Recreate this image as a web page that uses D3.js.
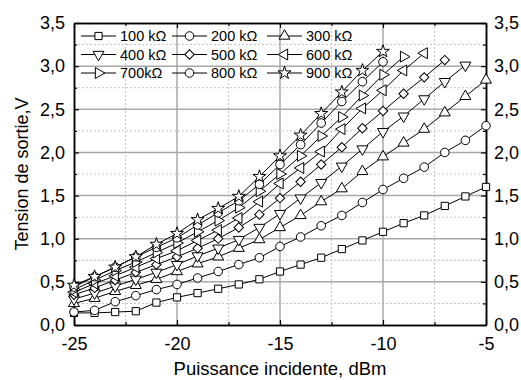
<!DOCTYPE html>
<html><head><meta charset="utf-8">
<script src="https://cdn.jsdelivr.net/npm/d3@7"></script>
<style>body{margin:0;background:#fff}svg{display:block;font-family:"Liberation Sans",Arial,sans-serif}</style>
</head><body><svg id="c" width="521" height="380"></svg>
<script>
const xValues = [-25,-24,-23,-22,-21,-20,-19,-18,-17,-16,-15,-14,-13,-12,-11,-10,-9,-8,-7,-6,-5];
const seriesNames = ["100 kΩ","200 kΩ","300 kΩ","400 kΩ","500 kΩ","600 kΩ","700kΩ","800 kΩ","900 kΩ"];
const seriesSymbols = ["square","circle","up","down","diamond","left","right","circle","star"];
const s100 = [0.14,0.14,0.15,0.16,0.26,0.32,0.37,0.42,0.47,0.53,0.62,0.70,0.78,0.88,0.98,1.08,1.18,1.27,1.38,1.49,1.60];
const s200 = [0.15,0.17,0.27,0.34,0.41,0.47,0.545,0.62,0.70,0.78,0.91,1.02,1.15,1.27,1.42,1.57,1.70,1.83,2.00,2.14,2.31];
const s300 = [0.25,0.31,0.39,0.46,0.53,0.62,0.71,0.79,0.89,0.99,1.13,1.27,1.43,1.58,1.78,1.95,2.11,2.27,2.46,2.65,2.84];
const s400 = [0.30,0.37,0.45,0.53,0.61,0.70,0.80,0.89,0.99,1.13,1.29,1.47,1.65,1.84,2.04,2.24,2.42,2.62,2.82,3.01];
const s500 = [0.35,0.43,0.52,0.61,0.70,0.79,0.89,1.00,1.13,1.28,1.47,1.66,1.86,2.06,2.28,2.48,2.68,2.87,3.07];
const s600 = [0.38,0.48,0.57,0.67,0.77,0.86,0.98,1.10,1.24,1.43,1.64,1.82,2.01,2.27,2.51,2.72,2.95,3.15];
const s700 = [0.41,0.52,0.63,0.73,0.84,0.95,1.08,1.21,1.36,1.55,1.75,1.96,2.19,2.41,2.66,2.90,3.11];
const s800 = [0.44,0.56,0.67,0.79,0.90,1.01,1.16,1.30,1.44,1.63,1.86,2.09,2.34,2.59,2.82,3.05];
const s900 = [0.46,0.56,0.67,0.79,0.935,1.06,1.22,1.35,1.49,1.72,1.96,2.20,2.45,2.70,2.95,3.17];
const allSeries = [s100,s200,s300,s400,s500,s600,s700,s800,s900];
const xTicks = [-25,-20,-15,-10,-5];
const yTicks = [0,0.5,1,1.5,2,2.5,3,3.5];
const xMinor = [-22.5,-17.5,-12.5,-7.5];
const yMinor = [0.25,0.75,1.25,1.75,2.25,2.75,3.25];

const svg = d3.select("#c");
const L=74, R=486, T=23, B=325;
const x = d3.scaleLinear().domain([-25,-5]).range([L,R]);
const y = d3.scaleLinear().domain([0,3.5]).range([B,T]);
const fmt = d => d3.format(".1f")(d).replace(".", ",");

// grid
const g = svg.append("g");
g.selectAll(".gmx").data(xMinor).join("line").attr("x1",d=>x(d)).attr("x2",d=>x(d)).attr("y1",T).attr("y2",B)
  .attr("stroke","#c4c4c4").attr("stroke-width",1).attr("stroke-dasharray","2,2");
g.selectAll(".gmy").data(yMinor).join("line").attr("y1",d=>y(d)).attr("y2",d=>y(d)).attr("x1",L).attr("x2",R)
  .attr("stroke","#c4c4c4").attr("stroke-width",1).attr("stroke-dasharray","2,2");
g.selectAll(".gx").data(xTicks.slice(1,-1)).join("line").attr("x1",d=>x(d)).attr("x2",d=>x(d)).attr("y1",T).attr("y2",B)
  .attr("stroke","#a8a8a8").attr("stroke-width",1.5);
g.selectAll(".gy").data(yTicks.slice(1,-1)).join("line").attr("y1",d=>y(d)).attr("y2",d=>y(d)).attr("x1",L).attr("x2",R)
  .attr("stroke","#a8a8a8").attr("stroke-width",1.5);

function addAxis(axis, tr){
  const a = svg.append("g").attr("transform",tr).call(axis);
  a.select(".domain").attr("stroke","#000").attr("stroke-width",1.5);
  a.selectAll(".tick line").attr("stroke","#000").attr("stroke-width",1.2);
  return a;
}
const tickFont = 18;
function styleLabels(a){ a.selectAll("text").attr("font-size",tickFont).attr("fill","#000").attr("font-family","Liberation Sans, Arial, sans-serif"); }
let ax;
ax = addAxis(d3.axisBottom(x).tickValues(xTicks).tickSize(-5).tickPadding(12).tickSizeOuter(0).tickFormat(d=>String(d)), `translate(0,${B})`);
styleLabels(ax);
addAxis(d3.axisBottom(x).tickValues(xMinor).tickSize(-3).tickSizeOuter(0).tickFormat(""), `translate(0,${B})`);
addAxis(d3.axisTop(x).tickValues(xTicks).tickSize(-5).tickSizeOuter(0).tickFormat(""), `translate(0,${T})`);
addAxis(d3.axisTop(x).tickValues(xMinor).tickSize(-3).tickSizeOuter(0).tickFormat(""), `translate(0,${T})`);
ax = addAxis(d3.axisLeft(y).tickValues(yTicks).tickSize(-5).tickPadding(9).tickSizeOuter(0).tickFormat(fmt), `translate(${L},0)`);
styleLabels(ax);
addAxis(d3.axisLeft(y).tickValues(yMinor).tickSize(-3).tickSizeOuter(0).tickFormat(""), `translate(${L},0)`);
ax = addAxis(d3.axisRight(y).tickValues(yTicks).tickSize(-5).tickPadding(8).tickSizeOuter(0).tickFormat(fmt), `translate(${R},0)`);
styleLabels(ax);
addAxis(d3.axisRight(y).tickValues(yMinor).tickSize(-3).tickSizeOuter(0).tickFormat(""), `translate(${R},0)`);

// titles
svg.append("text").attr("x",(L+R)/2).attr("y",375).attr("text-anchor","middle").attr("font-size",18.5).text("Puissance incidente, dBm");
svg.append("text").attr("transform",`translate(28,${(T+B)/2}) rotate(-90)`).attr("text-anchor","middle").attr("font-size",18).text("Tension de sortie,V");

function symPath(kind){
  switch(kind){
    case "square": return {d:d3.symbol(d3.symbolSquare,52)(), r:0};
    case "circle": return {d:d3.symbol(d3.symbolCircle,58)(), r:0};
    case "up": return {d:d3.symbol(d3.symbolTriangle,52)(), r:0};
    case "down": return {d:d3.symbol(d3.symbolTriangle,52)(), r:180};
    case "left": return {d:d3.symbol(d3.symbolTriangle,52)(), r:-90};
    case "right": return {d:d3.symbol(d3.symbolTriangle,52)(), r:90};
    case "diamond": return {d:d3.symbol(d3.symbolSquare,44)(), r:45};
    case "star": return {d:d3.symbol(d3.symbolStar,52)(), r:0};
  }
}
const line = d3.line().x(d=>x(d[0])).y(d=>y(d[1]));
const plot = svg.append("g");
allSeries.forEach((vals)=>{
  const pts = vals.map((v,j)=>[xValues[j],v]);
  plot.append("path").attr("d",line(pts)).attr("fill","none").attr("stroke","#000").attr("stroke-width",1);
});
allSeries.forEach((vals,i)=>{
  const pts = vals.map((v,j)=>[xValues[j],v]);
  const sp = symPath(seriesSymbols[i]);
  plot.selectAll(null).data(pts).join("path")
    .attr("d",sp.d).attr("transform",d=>`translate(${x(d[0])},${y(d[1])}) rotate(${sp.r})`)
    .attr("fill","#fff").attr("stroke","#000").attr("stroke-width",1);
});

// legend
const legCols=[81,172,267], legRows=[36,54.5,73];
seriesNames.forEach((name,i)=>{
  const cx = legCols[i%3], cy = legRows[Math.floor(i/3)];
  const lg = svg.append("g");
  lg.append("line").attr("x1",cx).attr("x2",cx+35).attr("y1",cy).attr("y2",cy).attr("stroke","#000");
  const sp = symPath(seriesSymbols[i]);
  lg.append("path").attr("d",sp.d).attr("transform",`translate(${cx+17.5},${cy}) rotate(${sp.r})`).attr("fill","#fff").attr("stroke","#000");
  lg.append("text").attr("x",cx+39).attr("y",cy+5).attr("font-size",14.5).text(name);
});
</script></body></html>
